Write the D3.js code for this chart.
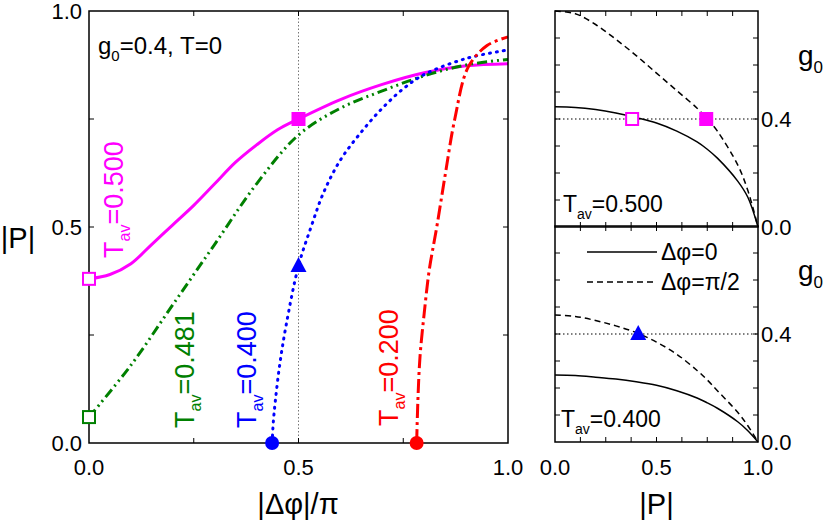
<!DOCTYPE html>
<html>
<head>
<meta charset="utf-8">
<script src="https://d3js.org/d3.v7.min.js"></script>
<style>
body{margin:0;background:#fff;}
text{font-family:"Liberation Sans",Arial,sans-serif;}
</style>
</head>
<body>
<script>
// main panel data: |dphi|/pi vs |P|
var magX = [0,0.05,0.1,0.15,0.2,0.25,0.3,0.35,0.4,0.45,0.5,0.6,0.7,0.8,0.9,1];
var magY = [0.38,0.39,0.415,0.46,0.505,0.55,0.6,0.65,0.69,0.725,0.75,0.795,0.83,0.857,0.873,0.878];
var grnX = [0,0.1,0.2,0.3,0.4,0.5,0.6,0.7,0.8,0.9,1];
var grnY = [0.06,0.18,0.32,0.46,0.6,0.713,0.775,0.815,0.85,0.875,0.888];
var bluX = [0.437,0.44,0.445,0.455,0.47,0.5,0.53,0.56,0.6,0.65,0.7,0.75,0.8,0.9,1];
var bluY = [0,0.05,0.1,0.18,0.27,0.41,0.5,0.58,0.655,0.72,0.775,0.82,0.853,0.89,0.91];
var redX = [0.782,0.785,0.79,0.8,0.812,0.83,0.85,0.873,0.905,0.95,1];
var redY = [0,0.1,0.2,0.3,0.4,0.5,0.62,0.75,0.87,0.92,0.94];

// right panels: |P| vs g0
var pGrid = [0,0.1,0.2,0.3,0.4,0.5,0.6,0.7,0.75,0.8,0.9,0.95,1];
var topSolid = [0.445,0.443,0.435,0.422,0.405,0.385,0.355,0.315,0.288,0.255,0.17,0.11,0];
var topDash  = [0.80,0.79,0.75,0.695,0.635,0.57,0.505,0.44,0.40,0.355,0.23,0.135,0];
var botSolid = [0.248,0.246,0.24,0.233,0.223,0.21,0.19,0.163,0.145,0.125,0.075,0.042,0];
var botDash  = [0.47,0.465,0.45,0.43,0.405,0.37,0.325,0.265,0.23,0.19,0.11,0.06,0];

var W = 831, H = 525;
var svg = d3.select("body").append("svg").attr("width", W).attr("height", H);

function zip(a, b){ return a.map(function(v, i){ return [v, b[i]]; }); }

// ---- main panel
var x = d3.scaleLinear().domain([0,1]).range([89,508]);
var y = d3.scaleLinear().domain([0,1]).range([443,11]);
var line = d3.line().x(function(d){return x(d[0]);}).y(function(d){return y(d[1]);}).curve(d3.curveCatmullRom);

svg.append("line").attr("x1", x(0.5)).attr("x2", x(0.5)).attr("y1", y(0)).attr("y2", y(1))
  .attr("stroke", "#777").attr("stroke-width", 1).attr("stroke-dasharray", "1.5,2");

var series = [
  {x: magX, y: magY, c: "#ff00ff", dash: null},
  {x: grnX, y: grnY, c: "#008000", dash: "10,4,2,4,2,4"},
  {x: bluX, y: bluY, c: "#0000ff", dash: "1,6"},
  {x: redX, y: redY, c: "#ff0000", dash: "14,4,3,4"}
];
series.forEach(function(s){
  svg.append("path").datum(zip(s.x, s.y)).attr("d", line).attr("fill", "none")
    .attr("stroke", s.c).attr("stroke-width", 3)
    .attr("stroke-linecap", s.dash === "1,6" ? "round" : "butt")
    .attr("stroke-dasharray", s.dash);
});

// frame & ticks
function frame(sx, sy, xt, yt){
  var x0 = sx.range()[0], x1 = sx.range()[1], y0 = sy.range()[0], y1 = sy.range()[1];
  svg.append("rect").attr("x", x0).attr("y", y1).attr("width", x1 - x0).attr("height", y0 - y1)
    .attr("fill", "none").attr("stroke", "#000").attr("stroke-width", 1.5);
  xt.forEach(function(t){
    svg.append("line").attr("x1", sx(t)).attr("x2", sx(t)).attr("y1", y0).attr("y2", y0 - 5).attr("stroke", "#000");
    svg.append("line").attr("x1", sx(t)).attr("x2", sx(t)).attr("y1", y1).attr("y2", y1 + 5).attr("stroke", "#000");
  });
  yt.forEach(function(t){
    svg.append("line").attr("x1", x0).attr("x2", x0 + 5).attr("y1", sy(t)).attr("y2", sy(t)).attr("stroke", "#000");
    svg.append("line").attr("x1", x1).attr("x2", x1 - 5).attr("y1", sy(t)).attr("y2", sy(t)).attr("stroke", "#000");
  });
}
frame(x, y, [0.25,0.5,0.75], [0.25,0.5,0.75]);

[0,0.5,1].forEach(function(t){
  svg.append("text").attr("x", x(t)).attr("y", 475).attr("text-anchor", "middle")
    .attr("font-size", 22).text(t.toFixed(1));
  svg.append("text").attr("x", 82).attr("y", y(t) + 8).attr("text-anchor", "end")
    .attr("font-size", 22).text(t.toFixed(1));
});

// markers
function square(cx, cy, c, filled){
  svg.append("rect").attr("x", cx - 6).attr("y", cy - 6).attr("width", 12).attr("height", 12)
    .attr("fill", filled ? c : "#fff").attr("stroke", c).attr("stroke-width", 2);
}
function circle(cx, cy, c){
  svg.append("circle").attr("cx", cx).attr("cy", cy).attr("r", 7).attr("fill", c);
}
function tri(cx, cy, c){
  svg.append("path").attr("d", "M" + cx + "," + (cy - 9) + "L" + (cx + 8) + "," + (cy + 6) + "L" + (cx - 8) + "," + (cy + 6) + "Z").attr("fill", c);
}
square(x(magX[0]), y(magY[0]), "#ff00ff", false);
square(x(0.5), y(0.75), "#ff00ff", true);
square(x(grnX[0]), y(grnY[0]), "#008000", false);
tri(x(0.5), y(0.41), "#0000ff");
circle(x(bluX[0]), y(0), "#0000ff");
circle(x(redX[0]), y(0), "#ff0000");

// rotated labels
function tav(bx, by, c, val){
  var t = svg.append("text").attr("transform", "translate(" + bx + "," + by + ") rotate(-90)")
    .attr("font-size", 27).attr("fill", c);
  t.append("tspan").text("T");
  t.append("tspan").attr("font-size", 16).attr("dy", 7).text("av");
  t.append("tspan").attr("dy", -7).text("=" + val);
}
tav(123, 258, "#ff00ff", "0.500");
tav(194, 428, "#008000", "0.481");
tav(256, 428, "#0000ff", "0.400");
tav(398, 426, "#ff0000", "0.200");

var g0t = svg.append("text").attr("x", 98).attr("y", 54).attr("font-size", 24);
g0t.append("tspan").text("g");
g0t.append("tspan").attr("font-size", 15).attr("dy", 7).text("0");
g0t.append("tspan").attr("dy", -7).text("=0.4, T=0");

svg.append("text").attr("x", 18).attr("y", 248).attr("text-anchor", "middle").attr("font-size", 29).text("|P|");
svg.append("text").attr("x", 298).attr("y", 514).attr("text-anchor", "middle").attr("font-size", 29).text("|Δφ|/π");

// ---- right panels
var px = d3.scaleLinear().domain([0,1]).range([555,758]);
var yTop = d3.scaleLinear().domain([0,0.8]).range([227,11]);
var yBot = d3.scaleLinear().domain([0,0.8]).range([442,226]);
var gTicks = [0.1,0.2,0.3,0.4,0.5,0.6,0.7];
var pTicks = [0.125,0.25,0.375,0.5,0.625,0.75,0.875];

function panel(sy, solid, dash){
  var ln = d3.line().x(function(d){return px(d[0]);}).y(function(d){return sy(d[1]);}).curve(d3.curveCatmullRom);
  svg.append("line").attr("x1", px(0)).attr("x2", px(1)).attr("y1", sy(0.4)).attr("y2", sy(0.4))
    .attr("stroke", "#000").attr("stroke-width", 1.2).attr("stroke-dasharray", "1.5,2.5");
  svg.append("path").datum(zip(pGrid, solid)).attr("d", ln).attr("fill", "none").attr("stroke", "#000").attr("stroke-width", 1.5);
  svg.append("path").datum(zip(pGrid, dash)).attr("d", ln).attr("fill", "none").attr("stroke", "#000").attr("stroke-width", 1.5).attr("stroke-dasharray", "6,4");
  frame(px, sy, pTicks, gTicks);
  [0, 0.4].forEach(function(t){
    svg.append("text").attr("x", 761).attr("y", sy(t) + 8).attr("font-size", 22).text(t.toFixed(1));
  });
  var gl = svg.append("text").attr("x", 798).attr("y", sy(0.6)).attr("font-size", 28);
  gl.append("tspan").text("g");
  gl.append("tspan").attr("font-size", 17).attr("dy", 8).text("0");
}
panel(yTop, topSolid, topDash);
panel(yBot, botSolid, botDash);

square(px(0.38), yTop(0.4), "#ff00ff", false);
square(px(0.745), yTop(0.4), "#ff00ff", true);
tri(px(0.41), yBot(0.4), "#0000ff");

function tavR(bx, by, val){
  var t = svg.append("text").attr("x", bx).attr("y", by).attr("font-size", 23);
  t.append("tspan").text("T");
  t.append("tspan").attr("font-size", 14).attr("dy", 7).text("av");
  t.append("tspan").attr("dy", -7).text("=" + val);
}
tavR(563, 212, "0.500");
tavR(561, 427, "0.400");

// legend
svg.append("line").attr("x1", 587).attr("x2", 657).attr("y1", 252).attr("y2", 252).attr("stroke", "#000").attr("stroke-width", 1.5);
svg.append("line").attr("x1", 587).attr("x2", 657).attr("y1", 282).attr("y2", 282).attr("stroke", "#000").attr("stroke-width", 1.5).attr("stroke-dasharray", "6,4");
svg.append("text").attr("x", 661).attr("y", 260).attr("font-size", 23).text("Δφ=0");
svg.append("text").attr("x", 661).attr("y", 290).attr("font-size", 23).text("Δφ=π/2");

[0,0.5,1].forEach(function(t){
  svg.append("text").attr("x", px(t)).attr("y", 475).attr("text-anchor", "middle").attr("font-size", 22).text(t.toFixed(1));
});
svg.append("text").attr("x", px(0.5)).attr("y", 514).attr("text-anchor", "middle").attr("font-size", 29).text("|P|");
</script>
</body>
</html>
